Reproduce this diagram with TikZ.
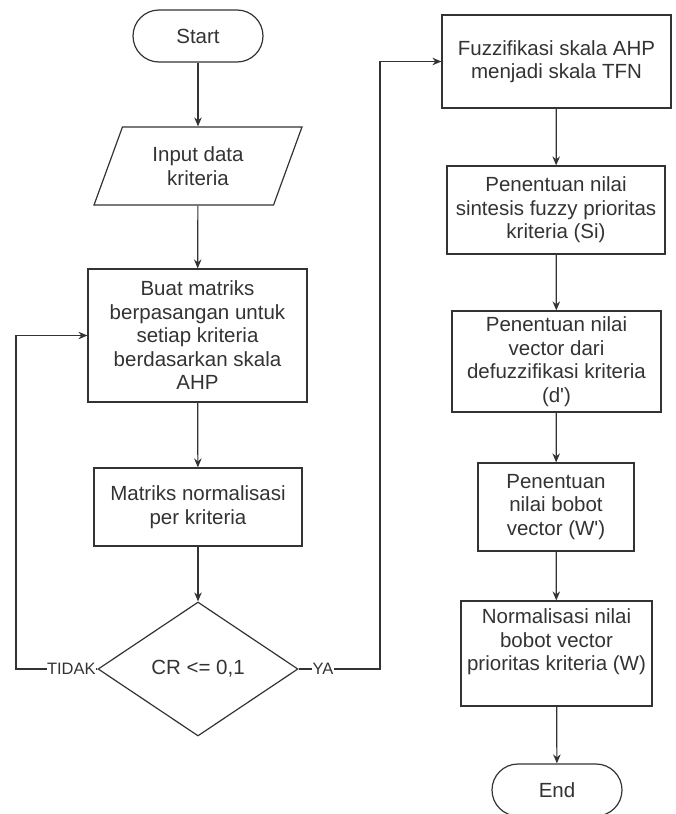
\documentclass[tikz,border=0pt]{standalone}
\usepackage{fontspec}
\setmainfont{Liberation Sans}
\usepackage{xcolor}
\usepackage{tikz}
\usetikzlibrary{positioning,shapes.geometric,arrows.meta}

\definecolor{ink}{HTML}{333333}

\begin{document}
\begin{tikzpicture}[x=1pt, y=-1pt, line width=1.2pt, draw=ink, >={Stealth[length=9pt,width=7.5pt]}]
  \tikzstyle{term}=[rectangle, draw=ink, rounded corners=26pt,
                    minimum width=130pt, minimum height=52pt, inner sep=0pt,
                    align=center, text=ink, font=\fontsize{20.5}{23.5}\selectfont]
  \tikzstyle{pbox}=[rectangle, draw=ink, inner sep=0pt,
                    align=center, text=ink, font=\fontsize{20.5}{23.5}\selectfont]
  \tikzstyle{iobox}=[trapezium, draw=ink, trapezium left angle=66, trapezium right angle=114,
                    trapezium stretches=true, inner sep=0pt,
                    minimum width=208pt, minimum height=78pt,
                    align=center, text=ink, font=\fontsize{20.5}{23.5}\selectfont]
  \tikzstyle{dbox}=[diamond, draw=ink, inner sep=0pt,
                    minimum width=200pt, minimum height=134pt,
                    align=center, text=ink, font=\fontsize{20.5}{23.5}\selectfont]
  \tikzstyle{lbl}=[fill=white, inner sep=0.5pt, text=ink, font=\fontsize{16.5}{19}\selectfont]
  \tikzstyle{arr}=[->, draw=ink]

  \useasboundingbox (0,0) rectangle (676,814);

  % left column
  \node[term]  at (198,36)    (start) {Start};
  \node[iobox] at (198,166)   (input) {Input data\\kriteria};
  \node[pbox, minimum width=219pt, minimum height=133pt] at (197.5,335.5) (pair)
        {Buat matriks\\berpasangan untuk\\setiap kriteria\\berdasarkan skala\\AHP};
  \node[pbox, minimum width=208pt, minimum height=78pt] at (198,507) (norm)
        {Matriks normalisasi\\per kriteria};
  \node[dbox]  at (198,669)   (cr) {CR <= 0,1};

  % right column
  \node[pbox, minimum width=229pt, minimum height=93pt] at (556.5,61.5) (fuzz)
        {Fuzzifikasi skala AHP\\menjadi skala TFN};
  \node[pbox, minimum width=218pt, minimum height=88pt] at (556,210) (synth)
        {Penentuan nilai\\sintesis fuzzy prioritas\\kriteria (Si)};
  \node[pbox, minimum width=209pt, minimum height=101pt] at (556.5,361.5) (defuz)
        {Penentuan nilai\\vector dari\\defuzzifikasi kriteria\\(d\textquotesingle)};
  \node[pbox, minimum width=156pt, minimum height=88pt] at (556,507) (weight)
        {Penentuan\\nilai bobot\\vector (W\textquotesingle)};
  \node[pbox, minimum width=191pt, minimum height=105pt] at (556.5,653.5) (normw)
        {Normalisasi nilai\\bobot vector\\prioritas kriteria (W)\\[4pt]};
  \node[term]  at (557,790)   (end) {End};

  \coordinate (loopL) at (16,669);
  \coordinate (loopR) at (380,669);

  \draw[arr] (start) -- (input);
  \draw[arr] (input) -- (pair);
  \draw[arr] (pair)  -- (norm);
  \draw[arr] (norm)  -- (cr);

  \draw[arr] (cr.west) -- node[lbl, pos=0.32]{TIDAK} (loopL) |- (pair.west);
  \draw[arr] (cr.east) -- node[lbl, pos=0.30]{YA} (loopR) |- (fuzz.west);

  \draw[arr] (fuzz)   -- (synth);
  \draw[arr] (synth)  -- (defuz);
  \draw[arr] (defuz)  -- (weight);
  \draw[arr] (weight) -- (normw);
  \draw[arr] (normw)  -- (end);
\end{tikzpicture}
\end{document}
